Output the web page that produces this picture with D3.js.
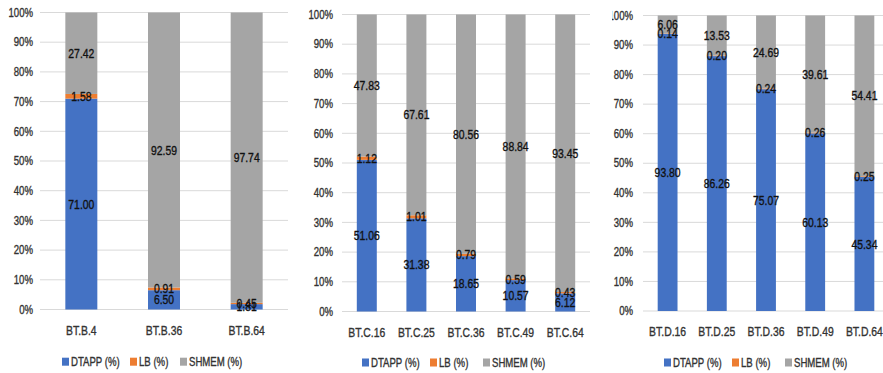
<!DOCTYPE html>
<html><head><meta charset="utf-8">
<script src="https://cdn.jsdelivr.net/npm/d3@7"></script>
<style>
body{margin:0;background:#fff;}
text{font-family:"Liberation Sans",Arial,sans-serif;}
</style></head>
<body><svg id="c" width="883" height="373"></svg>
<script>
const seriesNames = ["DTAPP (%)", "LB (%)", "SHMEM (%)"];
const colors = ["#4472C4", "#ED7D31", "#A5A5A5"];
const yTicks = [0,10,20,30,40,50,60,70,80,90,100];

const catB = ["BT.B.4", "BT.B.36", "BT.B.64"];
const dtappB = [71.00, 6.50, 1.81];
const lbB = [1.58, 0.91, 0.45];
const shmemB = [27.42, 92.59, 97.74];

const catC = ["BT.C.16", "BT.C.25", "BT.C.36", "BT.C.49", "BT.C.64"];
const dtappC = [51.06, 31.38, 18.65, 10.57, 6.12];
const lbC = [1.12, 1.01, 0.79, 0.59, 0.43];
const shmemC = [47.83, 67.61, 80.56, 88.84, 93.45];

const catD = ["BT.D.16", "BT.D.25", "BT.D.36", "BT.D.49", "BT.D.64"];
const dtappD = [93.80, 86.26, 75.07, 60.13, 45.34];
const lbD = [0.14, 0.20, 0.24, 0.26, 0.25];
const shmemD = [6.06, 13.53, 24.69, 39.61, 54.41];

const SX = 0.8; // horizontal squeeze to mimic narrow font
const svg = d3.select("#c");

function label(sel, xf, yf, anchor, size, fill, txt) {
  return sel.append("text")
    .attr("transform", d => `translate(${xf(d)},${yf(d)}) scale(${SX},1)`)
    .attr("dy", "0.35em").attr("text-anchor", anchor)
    .attr("font-size", size).attr("fill", fill)
    .attr("stroke", fill).attr("stroke-width", 0.35)
    .text(txt);
}

const panels = [
  {cats:catB, vals:[dtappB, lbB, shmemB], x0:40, x1:288, y0:309.5, y1:12.5, pad:0.613, labelX:33, xLabY:330, legY:361.7, legX:[62,130,180], clip:null},
  {cats:catC, vals:[dtappC, lbC, shmemC], x0:342, x1:590, y0:311.5, y1:14.5, pad:0.597, labelX:333, xLabY:332.5, legY:362.5, legX:[362,430,483], clip:null},
  {cats:catD, vals:[dtappD, lbD, shmemD], x0:643, x1:889, y0:311, y1:15.5, pad:0.597, labelX:633, xLabY:331.5, legY:362.5, legX:[664,732,785], clip:612}
];

panels.forEach((p, pi) => {
  let g = svg.append("g");
  if (p.clip !== null) {
    svg.append("clipPath").attr("id","clp"+pi).append("rect")
      .attr("x", p.clip).attr("y", 0).attr("width", 883 - p.clip).attr("height", 373);
    g.attr("clip-path", "url(#clp"+pi+")");
  }
  const x = d3.scaleBand().domain(p.cats).range([p.x0, p.x1]).paddingInner(p.pad).paddingOuter(p.pad/2);
  const y = d3.scaleLinear().domain([0,100]).range([p.y0, p.y1]);

  // gridlines
  g.append("g").selectAll("line").data(yTicks).join("line")
    .attr("x1", p.x0).attr("x2", Math.min(p.x1, 883))
    .attr("y1", d => y(d)).attr("y2", d => y(d))
    .attr("stroke", "#D9D9D9").attr("stroke-width", 1);

  // y tick labels
  g.append("g").selectAll("g").data(yTicks).join("g")
    .call(s => label(s, () => p.labelX, d => y(d), "end", 12, "#333", d => d + "%"));

  // stacked data
  const rows = p.cats.map((c, i) => ({cat:c, s0:p.vals[0][i], s1:p.vals[1][i], s2:p.vals[2][i]}));
  const stack = d3.stack().keys(["s0","s1","s2"])(rows);

  stack.forEach((layer, li) => {
    g.append("g").selectAll("rect").data(layer).join("rect")
      .attr("x", d => x(d.data.cat)).attr("width", x.bandwidth())
      .attr("y", d => y(d[1])).attr("height", d => y(d[0]) - y(d[1]))
      .attr("fill", colors[li]);
  });
  stack.forEach((layer, li) => {
    g.append("g").selectAll("g").data(layer).join("g")
      .call(s => label(s, d => x(d.data.cat) + x.bandwidth()/2, d => y((d[0]+d[1])/2), "middle", 13, "#111",
        d => (d[1]-d[0]).toFixed(2)));
  });

  // x labels
  g.append("g").selectAll("g").data(p.cats).join("g")
    .call(s => label(s, d => x(d) + x.bandwidth()/2, () => p.xLabY, "middle", 13, "#333", d => d));

  // legend
  const lg = g.append("g");
  seriesNames.forEach((n, i) => {
    lg.append("rect").attr("x", p.legX[i]).attr("y", p.legY - 4).attr("width", 7).attr("height", 8).attr("fill", colors[i]);
    lg.append("text").attr("transform", `translate(${p.legX[i] + 9},${p.legY}) scale(${SX},1)`).attr("dy", "0.35em")
      .attr("font-size", 12).attr("fill", "#333").attr("stroke", "#333").attr("stroke-width", 0.35).text(n);
  });
});
</script></body></html>
